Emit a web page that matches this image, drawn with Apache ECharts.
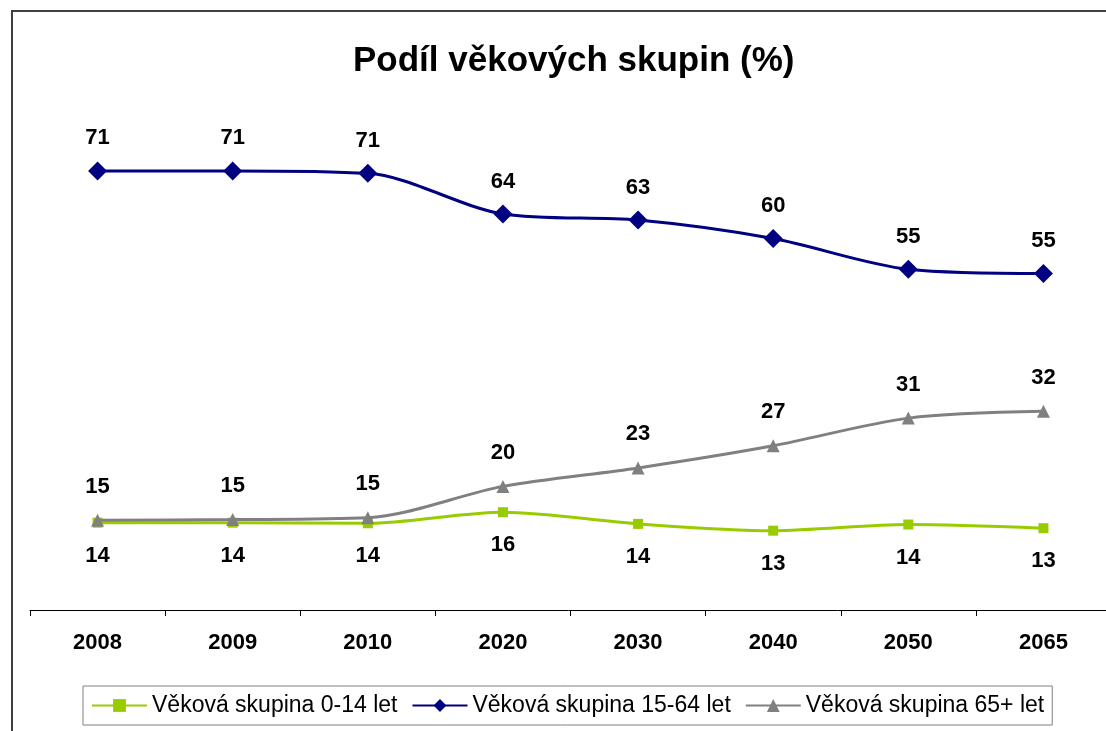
<!DOCTYPE html>
<html>
<head>
<meta charset="utf-8">
<script src="https://cdn.jsdelivr.net/npm/echarts@6/dist/echarts.min.js"></script>
<style>
  html, body { margin: 0; padding: 0; background: #fff; }
  #chart { width: 1106px; height: 731px; }
</style>
</head>
<body>
<div id="chart"></div>
<script>
// kategorie (roky)
const years = ['2008', '2009', '2010', '2020', '2030', '2040', '2050', '2065']

// podíl věkových skupin v %
const group0to14 = [14.2, 14.2, 14.1, 15.9, 14.0, 12.9, 13.9, 13.3]
const group15to64 = [71.4, 71.4, 71.0, 64.4, 63.4, 60.4, 55.4, 54.7]
const group65plus = [14.6, 14.7, 15.0, 20.1, 23.1, 26.7, 31.2, 32.3]

const seriesNames = [
  'Věková skupina 0-14 let',
  'Věková skupina 15-64 let',
  'Věková skupina 65+ let'
]

const font = '"Liberation Sans", Arial, sans-serif'

const chart = echarts.init(document.getElementById('chart'))

function labelCfg(pos, dist) {
  return {
    show: true,
    position: pos,
    distance: dist,
    color: '#000',
    fontFamily: font,
    fontWeight: 'bold',
    fontSize: 22,
    formatter: p => Math.round(p.value)
  }
}

const option = {
  backgroundColor: '#fff',
  animation: false,
  title: {
    text: 'Podíl věkových skupin (%)',
    left: 348,
    top: 39,
    textStyle: { fontFamily: font, fontWeight: 'bold', fontSize: 35, color: '#000' }
  },
  // rámeček grafu
  graphic: [{
    type: 'rect',
    shape: { x: 12, y: 11, width: 1200, height: 800 },
    style: { fill: 'none', stroke: '#404040', lineWidth: 2 },
    silent: true
  }],
  legend: {
    left: 83,
    top: 686,
    padding: [8, 8],
    itemGap: 14,
    itemWidth: 55,
    itemHeight: 16,
    borderColor: '#808080',
    borderWidth: 1,
    textStyle: { fontFamily: font, fontSize: 23, color: '#000' },
    data: seriesNames
  },
  grid: {
    left: 30,
    width: 1081,
    top: 118,
    bottom: 121,
    outerBoundsMode: 'none'
  },
  xAxis: {
    type: 'category',
    data: years,
    boundaryGap: true,
    axisLine: { lineStyle: { color: '#000', width: 1 } },
    axisTick: { show: true, length: 6, lineStyle: { color: '#000' } },
    axisLabel: {
      margin: 22,
      color: '#000',
      fontFamily: font,
      fontWeight: 'bold',
      fontSize: 22
    }
  },
  yAxis: {
    type: 'value',
    min: 0,
    max: 80,
    show: false,
    splitLine: { show: false }
  },
  series: [
    {
      name: seriesNames[0],
      type: 'line',
      data: group0to14,
      smooth: 0.3,
      symbol: 'rect',
      symbolSize: 10,
      z: 2,
      itemStyle: { color: '#99CC00' },
      lineStyle: { color: '#99CC00', width: 3 },
      label: labelCfg('bottom', 17)
    },
    {
      name: seriesNames[1],
      type: 'line',
      data: group15to64,
      smooth: 0.3,
      symbol: 'diamond',
      symbolSize: 19,
      z: 4,
      itemStyle: { color: '#000080' },
      lineStyle: { color: '#000080', width: 3 },
      label: labelCfg('top', 12)
    },
    {
      name: seriesNames[2],
      type: 'line',
      data: group65plus,
      smooth: 0.3,
      symbol: 'triangle',
      symbolSize: 13,
      z: 3,
      itemStyle: { color: '#808080' },
      lineStyle: { color: '#808080', width: 3 },
      label: labelCfg('top', 16)
    }
  ]
}

chart.setOption(option)
</script>
</body>
</html>
